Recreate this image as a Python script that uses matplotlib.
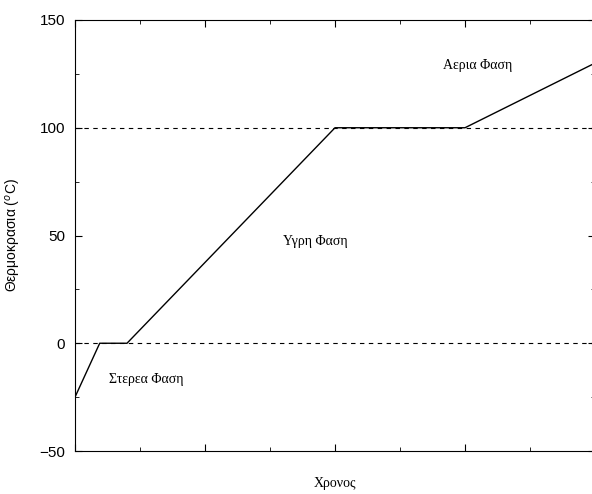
import matplotlib
matplotlib.use("Agg")
import matplotlib.pyplot as plt
from matplotlib.ticker import MultipleLocator, NullFormatter, FuncFormatter

# heating curve of water: time (arbitrary units) vs temperature
time = [0, 0.38, 0.8, 4.0, 6.0, 8.0]
temp = [-25, 0, 0, 100, 100, 130]

phase_labels = ["Στερεα Φαση", "Υγρη Φαση", "Αερια Φαση"]
phase_x = [1.1, 3.7, 6.2]
phase_y = [-17, 47, 129]

fig = plt.figure(figsize=(5.92, 4.94), dpi=100)
ax = fig.add_axes([75 / 592, 43 / 494, 520 / 592, 431 / 494])

ax.plot(time, temp, color="black", lw=1.0)
for level in (0, 100):
    ax.axhline(level, color="black", lw=0.8, ls=(0, (4, 4)))

for label, x, y in zip(phase_labels, phase_x, phase_y):
    ax.text(x, y, label, family="Liberation Serif", fontsize=10,
            ha="center", va="center")

ax.set_xlim(0, 8)
ax.set_ylim(-50, 150)
ax.xaxis.set_major_locator(MultipleLocator(2))
ax.xaxis.set_minor_locator(MultipleLocator(1))
ax.xaxis.set_major_formatter(NullFormatter())
ax.yaxis.set_major_locator(MultipleLocator(50))
ax.yaxis.set_minor_locator(MultipleLocator(25))
ax.yaxis.set_major_formatter(FuncFormatter(lambda v, p: f"{v:.0f}".replace("-", "\u2212")))
ax.tick_params(which="both", direction="in", top=True, right=True)
ax.tick_params(which="major", length=5)
ax.tick_params(which="minor", length=3)
ax.tick_params(axis="y", labelsize=11, pad=7)
for lab in ax.get_yticklabels():
    lab.set_family("Liberation Sans")

xl = ax.set_xlabel("Χρονος", family="Liberation Serif", fontsize=10)
xl.set_verticalalignment("center")
ax.xaxis.set_label_coords(0.5, -0.075)
ax.set_ylabel("Θερμοκρασια ($^o$C)", family="Liberation Sans", fontsize=10, labelpad=12)

fig.savefig("out.png", dpi=100)
